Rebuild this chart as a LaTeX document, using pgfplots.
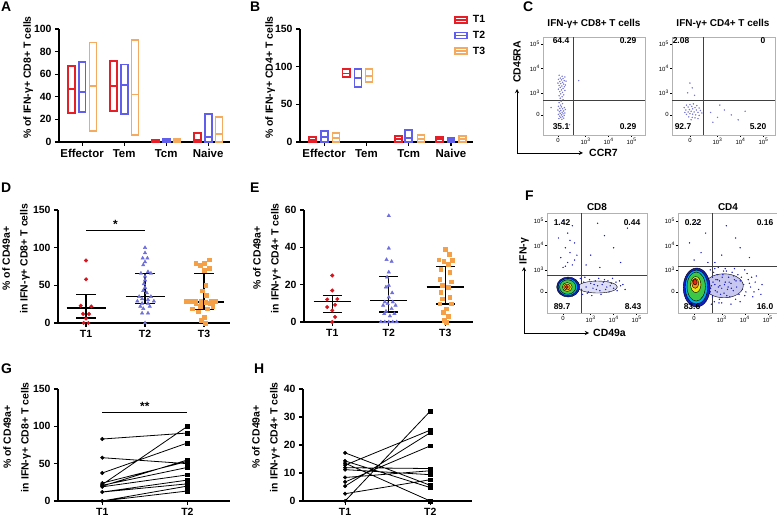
\documentclass[border=0pt]{standalone}
\usepackage{fontspec}
\setmainfont{Liberation Sans}
\usepackage{pgfplots}
\pgfplotsset{compat=1.18}

\definecolor{cred}{RGB}{230,30,40}
\definecolor{cblue}{RGB}{95,95,235}
\definecolor{corange}{RGB}{244,170,95}
\definecolor{pred}{RGB}{215,20,30}
\definecolor{pblue}{RGB}{110,110,220}
\definecolor{porange}{RGB}{245,160,70}
\definecolor{cdot}{RGB}{120,120,210}
\definecolor{fdot}{RGB}{30,30,190}
\definecolor{j1}{RGB}{20,30,200}
\definecolor{j2}{RGB}{0,170,240}
\definecolor{j3}{RGB}{60,200,70}
\definecolor{j4}{RGB}{235,230,20}
\definecolor{j5}{RGB}{250,150,20}
\definecolor{j6}{RGB}{230,40,20}

\pgfplotsset{
  bio/.style={scale only axis, anchor=south west, axis lines*=left,
    axis line style={line width=1.1pt}, every tick/.style={black, line width=1.1pt},
    tick align=outside, major tick length=4bp, minor tick num=0,
    /pgf/number format/assume math mode=true,
    tick label style={font=\bfseries\fontsize{10.5}{11}\selectfont},
    ylabel style={font=\bfseries\fontsize{10.5}{18}\selectfont, align=center},
    clip=false},
  ylab/.style={ylabel style={at={(axis description cs:#1,0.57)}, anchor=center}},
  flow/.style={scale only axis, anchor=south west,
    axis line style={gray!60, line width=0.5pt}, every tick/.style={black, line width=0.4pt},
    tick align=outside, major tick length=2bp, xtick pos=bottom, ytick pos=left,
    xtick={0,1.2,2.2,3.2}, xticklabels={0,10\textsuperscript{3},10\textsuperscript{4},10\textsuperscript{5}},
    ytick={0,0.9,1.9,2.9}, yticklabels={0,10\textsuperscript{3},10\textsuperscript{4},10\textsuperscript{5}},
    tick label style={font=\fontsize{6}{6}\selectfont, inner sep=1bp}},
  qline/.style={black!75, line width=0.6pt},
  boxleg/.style={#1, line width=1.8pt, legend image code/.code={\draw (0bp,-3bp) rectangle (12bp,3bp); \draw (0bp,0bp) -- (12bp,0bp);}},
}
% floating bar (min to max, line at median): colour, position, min, median, max
\newcommand{\fbar}[5]{%
  \pgfmathsetmacro\xa{#2-0.083}\pgfmathsetmacro\xb{#2+0.083}%
  \addplot[#1, line width=1.8pt, line cap=rect, forget plot] coordinates {(\xa,#3)(\xb,#3)(\xb,#5)(\xa,#5)(\xa,#3)};
  \addplot[#1, line width=1.8pt, forget plot] coordinates {(\xa,#4)(\xb,#4)};}
% density blob: colour, radius, xscale, x, y
\newcommand{\blob}[5]{\addplot[only marks, mark=*, mark size=#2, mark options={xscale=#3, draw=none, fill=#1}] coordinates {(#4,#5)};}

\begin{document}
\begin{tikzpicture}
\path[use as bounding box] (0,0) rectangle (777bp,520bp);

% ---------- A
\begin{axis}[bio, ylab=-0.181, at={(59bp,378bp)}, width=171bp, height=113bp,
  xmin=-0.55, xmax=3.52, ymin=0, ymax=100, ytick={0,20,...,100},
  xtick={0,1,2,3}, xticklabels={Effector,Tem,Tcm,Naive},
  x tick label style={font=\bfseries\fontsize{11.5}{12}\selectfont},
  ylabel={\% of IFN-γ+ CD8+ T cells}]
\fbar{cred}{-0.26}{26}{46.6}{67.4}
\fbar{cblue}{0}{26.7}{44}{71}
\fbar{corange}{0.26}{9.5}{49.6}{88}
\fbar{cred}{0.74}{27.3}{49.6}{72}
\fbar{cblue}{1}{24.6}{50.4}{68.5}
\fbar{corange}{1.26}{6}{42}{90}
\fbar{cred}{1.74}{0}{0.8}{1.8}
\fbar{cblue}{2}{0}{1.2}{3}
\fbar{corange}{2.26}{0}{1}{2.7}
\fbar{cred}{2.74}{0}{2}{8}
\fbar{cblue}{3}{0}{4.5}{25}
\fbar{corange}{3.26}{0}{7}{22}
\end{axis}

% ---------- B
\begin{axis}[bio, ylab=-0.173, at={(300bp,378bp)}, width=173bp, height=113bp,
  xmin=-0.57, xmax=3.52, ymin=0, ymax=150, ytick={0,50,100,150},
  xtick={0,1,2,3}, xticklabels={Effector,Tem,Tcm,Naive},
  x tick label style={font=\bfseries\fontsize{11.5}{12}\selectfont},
  ylabel={\% of IFN-γ+ CD4+ T cells},
  legend style={draw=none, fill=none, at={(0.89,1.14)}, anchor=north west,
    font=\bfseries\fontsize{10.5}{11}\selectfont, row sep=3bp, inner sep=0pt,
    nodes={inner xsep=5bp}},
  legend cell align=left]
\addlegendimage{boxleg=cred}
\addlegendentry{T1}
\addlegendimage{boxleg=cblue}
\addlegendentry{T2}
\addlegendimage{boxleg=corange}
\addlegendentry{T3}
\fbar{cred}{-0.27}{0}{3}{6.7}
\fbar{cblue}{0.01}{0}{6.7}{14.7}
\fbar{corange}{0.28}{0}{5.8}{12}
\fbar{cred}{0.52}{86}{91}{96.6}
\fbar{cblue}{0.8}{73.4}{84.6}{96.6}
\fbar{corange}{1.06}{80}{88}{96.6}
\fbar{cred}{1.75}{0}{4}{7.6}
\fbar{cblue}{2}{0}{5.8}{15.6}
\fbar{corange}{2.29}{0}{4.5}{9.3}
\fbar{cred}{2.73}{0}{3.6}{6.7}
\fbar{cblue}{3}{0}{2.7}{5.3}
\fbar{corange}{3.27}{0}{4}{7.6}
\end{axis}

% ---------- C
\begin{axis}[flow, at={(543bp,385bp)}, width=102bp, height=98bp,
  xmin=-0.65, xmax=3.78, ymin=-0.82, ymax=3.18]
\addplot[only marks, mark=*, mark size=0.5bp, cdot, mark options={draw=none}] coordinates {
(0.05,1.62)(0.18,1.58)(0.30,1.55)(0.10,1.50)(0.22,1.48)(0.02,1.45)(0.15,1.43)(0.27,1.40)
(0.35,1.38)(0.08,1.36)(0.20,1.33)(0.00,1.30)(0.12,1.28)(0.25,1.26)(0.32,1.22)(0.05,1.20)
(0.17,1.18)(0.28,1.15)(0.10,1.12)(0.22,1.08)(0.02,1.05)(0.15,1.02)(0.30,1.00)(0.08,0.95)
(0.20,0.92)(0.12,0.86)(0.25,0.82)(0.05,0.78)(0.18,0.74)(0.10,0.68)(0.22,0.62)(0.14,0.56)
(0.05,0.50)(0.20,0.46)(0.12,0.40)(0.02,0.35)(0.15,0.33)(0.28,0.30)(0.08,0.27)(0.20,0.25)
(0.32,0.22)(0.00,0.20)(0.12,0.18)(0.25,0.16)(0.06,0.13)(0.18,0.11)(0.30,0.08)(0.10,0.06)
(0.22,0.04)(0.02,0.02)(0.15,0.00)(0.27,-0.02)(0.08,-0.05)(0.20,-0.07)(0.12,-0.10)
(0.25,-0.13)(0.04,-0.15)(0.17,-0.18)(0.9,1.4)(-0.3,0.3)(0.5,-0.4)};
\addplot[qline] coordinates {(0.65,-0.82) (0.65,3.18)};
\addplot[qline] coordinates {(-0.65,0.61) (3.78,0.61)};
\end{axis}
\begin{axis}[flow, at={(672bp,385bp)}, width=103bp, height=98bp,
  xmin=-0.78, xmax=3.7, ymin=-0.82, ymax=3.18]
\addplot[only marks, mark=*, mark size=0.5bp, cdot, mark options={draw=none}] coordinates {
(-0.15,0.40)(0.00,0.42)(0.15,0.45)(0.30,0.38)(-0.25,0.30)(-0.08,0.32)(0.08,0.35)(0.22,0.30)
(0.40,0.28)(-0.18,0.20)(-0.02,0.22)(0.12,0.25)(0.28,0.20)(0.45,0.18)(-0.22,0.10)(-0.08,0.12)
(0.05,0.15)(0.18,0.12)(0.35,0.10)(0.52,0.08)(-0.15,0.02)(0.00,0.05)(0.12,0.03)(0.25,0.00)
(0.40,-0.02)(-0.05,-0.08)(0.10,-0.10)(0.22,-0.12)(0.35,-0.15)(0.05,-0.20)(0.9,0.1)(1.2,-0.1)
(1.5,0.2)(1.8,0.0)(2.1,-0.2)(1.3,0.4)(2.4,0.15)(1.0,-0.3)(0.0,1.3)(0.1,1.1)(-0.1,0.9)(0.2,0.8)};
\addplot[qline] coordinates {(0.6,-0.82) (0.6,3.18)};
\addplot[qline] coordinates {(-0.78,0.61) (3.7,0.61)};
\end{axis}

% ---------- D
\begin{axis}[bio, ylab=-0.244, at={(58bp,197bp)}, width=172bp, height=113bp,
  xmin=0.525, xmax=3.44, ymin=0, ymax=150, ytick={0,50,100,150},
  xtick={1,2,3}, xticklabels={T1,T2,T3},
  ylabel={\% of CD49a+\\in IFN-γ+ CD8+ T cells}]
\addplot[only marks, mark=*, mark size=1.8bp, pred] coordinates {
(1,83)(1,58)(0.91,23)(1.09,22)(0.95,12)(1.05,12)(1,6)(0.96,0)(1.04,0)};
\addplot[only marks, mark=triangle*, mark size=2bp, pblue] coordinates {
(2,100)(2,93)(1.96,86)(2.04,86)(2,81)(1.97,77)(2.05,68)(1.93,66)(2.1,66)(2,62)(2,57)
(1.98,52)(2,47)(1.97,43)(2.03,40)(1.9,35)(2.1,35)(1.95,32)(2.05,31)(1.87,29)(2.15,29)
(1.95,26)(2.05,26)(1.92,22)(2.08,22)(1.97,19)(1.95,13)(2.05,13)(2,0)};
\addplot[only marks, mark=square*, mark size=1.8bp, porange] coordinates {
(2.86,79)(2.93,77)(3.0,79)(3.09,84)(3.0,70)(3.09,73)(3.03,50)(2.97,43)(3.04,37)(2.7,29)
(2.78,29)(2.86,29)(2.94,29)(3.03,28)(3.12,29)(3.2,29)(2.86,26)(3.1,26)(2.93,22)(3.15,22)
(2.8,19)(3.05,19)(2.9,15)(3.0,8)(2.95,4)(3.02,0)};
\addplot[black, line width=1.4pt, unbounded coords=jump] coordinates {
(0.67,20)(1.33,20)(1,nan)(0.835,38)(1.165,38)(1,nan)(0.835,6.6)(1.165,6.6)(1,nan)(1,6.6)(1,38)(1,nan)
(1.67,35.4)(2.33,35.4)(2,nan)(1.835,65.5)(2.165,65.5)(2,nan)(1.835,25.7)(2.165,25.7)(2,nan)(2,25.7)(2,65.5)(2,nan)
(2.67,28)(3.33,28)(3,nan)(2.835,65.5)(3.165,65.5)(3,nan)(2.835,17.7)(3.165,17.7)(3,nan)(3,17.7)(3,65.5)};
\addplot[black, line width=0.9pt] coordinates {(1,123) (2,123)};
\node[font=\bfseries\fontsize{12}{12}\selectfont, anchor=south] at (axis cs:1.5,121) {*};
\end{axis}

% ---------- E
\begin{axis}[bio, ylab=-0.219, at={(304bp,198bp)}, width=169bp, height=112bp,
  xmin=0.5, xmax=3.49, ymin=0, ymax=60, ytick={0,20,40,60},
  xtick={1,2,3}, xticklabels={T1,T2,T3},
  ylabel={\% of CD49a+\\in IFN-γ+ CD4+ T cells}]
\addplot[only marks, mark=*, mark size=1.8bp, pred] coordinates {
(1,24.9)(1,16.9)(0.91,12.1)(1.09,12.3)(1.05,9.2)(0.91,8)(1.0,6.2)(1.05,2.7)(1,0)};
\addplot[only marks, mark=triangle*, mark size=2bp, pblue] coordinates {
(2,56.9)(2,39.5)(1.96,33.4)(2.05,32.4)(2,26.7)(1.97,24)(2,19.6)(1.95,18.7)(2.06,15.6)(2,13.3)
(1.93,10.7)(2.07,10.7)(1.98,9.8)(2.12,8.9)(1.9,8.9)(2.05,7.1)(1.95,5.7)(2.1,4.4)(1.92,4.4)
(2.02,3.2)(1.86,0)(1.93,0)(2,0)(2.07,0)(2.14,0)};
\addplot[only marks, mark=square*, mark size=1.8bp, porange] coordinates {
(3.0,39)(3.07,36.4)(2.88,33.3)(3.12,33.0)(2.97,32.5)(3.05,31)(2.92,28.4)(3.08,26.7)(2.9,22.8)
(3.1,21.5)(2.95,19.6)(3.05,18.7)(2.92,16)(3.08,13.3)(2.95,12.4)(3.1,9.8)(2.9,9.8)(3.02,7.1)
(2.96,5.3)(3.05,3)(2.98,0.9)(3.02,0)};
\addplot[black, line width=1.4pt, unbounded coords=jump] coordinates {
(0.67,11)(1.33,11)(1,nan)(0.835,14.2)(1.165,14.2)(1,nan)(0.835,5)(1.165,5)(1,nan)(1,5)(1,14.2)(1,nan)
(1.67,11.6)(2.33,11.6)(2,nan)(1.835,24.4)(2.165,24.4)(2,nan)(1.835,5.3)(2.165,5.3)(2,nan)(2,5.3)(2,24.4)(2,nan)
(2.67,18.7)(3.33,18.7)(3,nan)(2.835,29.7)(3.165,29.7)(3,nan)(2.835,9.6)(3.165,9.6)(3,nan)(3,9.6)(3,29.7)};
\end{axis}

% ---------- F
\begin{axis}[flow, at={(547bp,207bp)}, width=100bp, height=100bp,
  xmin=-0.7, xmax=3.65, ymin=-0.86, ymax=3.22]
\blob{fdot!15}{6bp}{3.3}{1.5}{0.2}
\addplot[only marks, mark=*, mark size=0.45bp, fdot, mark options={draw=none}] coordinates {
(0.7,0.3)(0.8,0.1)(0.9,0.4)(1.0,0.2)(1.1,0.0)(1.2,0.35)(1.3,0.15)(1.4,0.45)(1.5,0.25)(1.6,0.05)
(1.7,0.3)(1.8,0.5)(1.9,0.2)(2.0,0.0)(2.1,0.35)(2.2,0.15)(2.3,0.4)(2.5,0.25)(2.7,0.1)(0.75,0.55)
(0.85,-0.1)(0.95,0.6)(1.05,-0.05)(1.15,0.5)(1.25,-0.15)(1.35,0.3)(1.45,0.1)(1.55,0.55)(1.65,-0.1)
(1.75,0.4)(1.85,0.1)(1.95,0.45)(2.05,0.25)(2.15,0.55)(2.35,0.05)(2.45,0.45)(2.6,0.3)
(0.0,1.0)(0.2,1.2)(0.4,1.1)(-0.1,1.4)(0.3,1.6)(0.1,1.8)(0.5,2.0)(-0.2,2.2)(0.2,2.4)(0.4,2.7)
(0.0,2.9)(0.6,1.5)(0.3,2.1)(0.1,1.05)(0.5,1.3)(1.2,1.5)(1.8,2.3)(2.5,1.2)(1.5,2.8)(2.2,1.8)
(1.0,1.1)(2.8,2.6)(1.6,1.0)};
\blob{j1}{10bp}{1.15}{0.22}{0.2}
\blob{j2}{8.5bp}{1.15}{0.21}{0.2}
\blob{j3}{7.2bp}{1.12}{0.2}{0.2}
\blob{j4}{4.5bp}{1.1}{0.18}{0.2}
\blob{j5}{3bp}{1.1}{0.17}{0.2}
\blob{j6}{1.5bp}{1.1}{0.16}{0.2}
\addplot[qline] coordinates {(0.78,-0.86) (0.78,3.22)};
\addplot[qline] coordinates {(-0.7,0.69) (3.65,0.69)};
\end{axis}
\begin{axis}[flow, at={(678bp,207bp)}, width=99bp, height=100bp,
  xmin=-0.7, xmax=3.6, ymin=-0.86, ymax=3.22]
\blob{fdot!25}{12bp}{1.6}{1.3}{0.25}
\addplot[only marks, mark=*, mark size=0.45bp, fdot, mark options={draw=none}] coordinates {
(0.7,0.9)(0.8,0.6)(0.9,0.3)(1.0,0.0)(1.1,-0.3)(0.75,-0.5)(0.85,0.8)(0.95,0.5)(1.05,0.2)
(1.15,-0.1)(1.25,0.7)(1.35,0.4)(1.45,0.1)(1.55,-0.2)(1.65,0.8)(1.75,0.5)(1.85,0.2)(1.95,-0.1)
(2.05,0.6)(2.15,0.3)(2.25,0.0)(2.35,0.5)(2.45,0.2)(2.55,-0.2)(2.65,0.4)(2.8,0.1)(2.95,0.3)
(0.7,0.0)(0.8,-0.2)(0.9,0.95)(1.0,0.7)(1.1,0.45)(1.2,0.15)(1.3,-0.05)(1.4,0.85)(1.5,0.6)
(1.6,0.35)(1.7,0.05)(1.8,-0.3)(1.9,0.7)(2.0,0.45)(2.1,0.1)(2.2,-0.15)(2.3,0.75)(2.4,0.35)
(2.5,0.6)(2.6,0.0)(2.7,0.65)(2.9,-0.1)(1.2,-0.45)(1.6,-0.5)(2.0,-0.4)(0.65,0.45)(0.75,0.25)
(1.05,1.0)(1.35,0.95)(1.75,0.95)(2.2,0.9)
(0.72,0.15)(0.82,0.4)(0.92,0.05)(1.02,0.5)(1.12,0.25)(1.22,0.6)(1.32,0.3)(1.42,-0.15)
(1.52,0.4)(1.62,0.15)(1.72,0.65)(1.82,0.45)(0.88,-0.4)(1.08,-0.45)(1.28,0.85)(1.48,0.2)
(0.0,1.3)(0.3,1.6)(-0.2,2.0)(0.5,2.4)(0.1,2.8)(0.6,1.2)(1.2,1.5)(1.8,2.2)(2.4,1.4)(1.4,2.7)
(2.0,1.8)(0.9,1.2)};
\blob{j1}{19.5bp}{0.69}{0.11}{0.18}
\blob{j2}{17bp}{0.66}{0.1}{0.2}
\blob{j3}{14.5bp}{0.63}{0.09}{0.22}
\blob{j4}{8bp}{0.65}{0.07}{0.3}
\blob{j5}{5bp}{0.7}{0.05}{0.35}
\blob{j6}{2.8bp}{0.75}{0.04}{0.4}
\addplot[qline] coordinates {(0.78,-0.86) (0.78,3.22)};
\addplot[qline] coordinates {(-0.7,1.06) (3.6,1.06)};
\end{axis}

% ---------- G
\begin{axis}[bio, ylab=-0.238, at={(58bp,19bp)}, width=172bp, height=112bp,
  xmin=0.48, xmax=2.5, ymin=0, ymax=150, ytick={0,50,100,150},
  xtick={1,2}, xticklabels={T1,T2},
  ylabel={\% of CD49a+\\in IFN-γ+ CD8+ T cells}]
\addplot[black, line width=0.8pt, unbounded coords=jump] coordinates {
(1,83)(2,91)(1,nan)(1,58)(2,50)(1,nan)(1,37.5)(2,77.7)(1,nan)(1,22)(2,100)(1,nan)
(1,20)(2,55)(1,nan)(1,24)(2,53)(1,nan)(1,21)(2,45)(1,nan)(1,19)(2,35)(1,nan)
(1,12)(2,28)(1,nan)(1,12)(2,23)(1,nan)(1,0)(2,20)(1,nan)(1,0)(2,13.4)};
\addplot[only marks, mark=*, mark size=1.8bp, black] coordinates {
(1,83)(1,58)(1,37.5)(1,22)(1,20)(1,24)(1,21)(1,19)(1,12)(1,0)};
\addplot[only marks, mark=square*, mark size=1.8bp, black] coordinates {
(2,91)(2,50)(2,77.7)(2,100)(2,55)(2,53)(2,45)(2,35)(2,28)(2,23)(2,20)(2,13.4)};
\addplot[black, line width=0.9pt] coordinates {(1,118) (2,118)};
\node[font=\bfseries\fontsize{12}{12}\selectfont, anchor=south] at (axis cs:1.5,116) {**};
\end{axis}

% ---------- H
\begin{axis}[bio, ylab=-0.219, at={(303bp,19bp)}, width=169bp, height=112bp,
  xmin=0.506, xmax=2.49, ymin=0, ymax=40, ytick={0,10,...,40},
  xtick={1,2}, xticklabels={T1,T2},
  ylabel={\% of CD49a+\\in IFN-γ+ CD4+ T cells}]
\addplot[black, line width=0.8pt, unbounded coords=jump] coordinates {
(1,0)(2,32.1)(1,nan)(1,12.8)(2,25.3)(1,nan)(1,5.3)(2,24.4)(1,nan)(1,6.8)(2,19.7)(1,nan)
(1,11.9)(2,11.6)(1,nan)(1,8.4)(2,10.8)(1,nan)(1,2.6)(2,7.6)(1,nan)(1,11.2)(2,9.4)(1,nan)
(1,17.2)(2,5.6)(1,nan)(1,14.3)(2,4.8)(1,nan)(1,13.5)(2,0)};
\addplot[only marks, mark=*, mark size=1.8bp, black] coordinates {
(1,0)(1,12.8)(1,5.3)(1,6.8)(1,11.9)(1,8.4)(1,2.6)(1,11.2)(1,17.2)(1,14.3)(1,13.5)};
\addplot[only marks, mark=square*, mark size=1.8bp, black] coordinates {
(2,32.1)(2,25.3)(2,24.4)(2,19.7)(2,11.6)(2,10.8)(2,7.6)(2,9.4)(2,5.6)(2,4.8)(2,0)};
\end{axis}

% ---------- panel letters and flow annotations
\begin{scope}[every node/.style={font=\bfseries\fontsize{14}{14}\selectfont, inner sep=0pt, anchor=north west}]
\node at (1bp,518bp) {A};
\node at (250bp,518bp) {B};
\node at (523bp,518bp) {C};
\node at (1bp,337bp) {D};
\node at (250bp,337bp) {E};
\node at (525bp,329bp) {F};
\node at (1bp,156bp) {G};
\node at (254bp,156bp) {H};
\end{scope}
\begin{scope}[every node/.style={font=\bfseries\fontsize{10}{10}\selectfont, inner sep=0pt}]
\node at (594bp,496bp) {IFN-γ+ CD8+ T cells};
\node at (723bp,496bp) {IFN-γ+ CD4+ T cells};
\node at (597bp,313bp) {CD8};
\node at (728bp,313bp) {CD4};
\end{scope}
\begin{scope}[every node/.style={font=\bfseries\fontsize{8.5}{9}\selectfont, inner sep=0pt}]
\node at (561bp,479bp) {64.4};
\node at (628bp,479bp) {0.29};
\node at (561bp,393bp) {35.1};
\node at (628bp,393bp) {0.29};
\node at (681bp,479bp) {2.08};
\node at (763bp,479bp) {0};
\node at (683bp,393bp) {92.7};
\node at (758bp,393bp) {5.20};
\node at (562bp,297bp) {1.42};
\node at (632bp,297bp) {0.44};
\node at (562bp,213bp) {89.7};
\node at (633bp,213bp) {8.43};
\node at (693bp,297bp) {0.22};
\node at (765bp,297bp) {0.16};
\node at (692bp,213bp) {83.6};
\node at (765bp,213bp) {16.0};
\end{scope}
\draw[line width=0.9pt, -stealth] (517bp,367bp) -- (517bp,431bp);
\draw[line width=0.9pt, -stealth] (517bp,367bp) -- (583bp,367bp);
\node[rotate=90, font=\bfseries\fontsize{10.5}{11}\selectfont, inner sep=0pt] at (517bp,458bp) {CD45RA};
\node[font=\bfseries\fontsize{10.5}{11}\selectfont, inner sep=0pt, anchor=west] at (589bp,367bp) {CCR7};
\draw[line width=0.9pt, -stealth] (524bp,187bp) -- (524bp,253bp);
\draw[line width=0.9pt, -stealth] (524bp,187bp) -- (589bp,187bp);
\node[rotate=90, font=\bfseries\fontsize{10.5}{11}\selectfont, inner sep=0pt] at (524bp,269bp) {IFN-γ};
\node[font=\bfseries\fontsize{10.5}{11}\selectfont, inner sep=0pt, anchor=west] at (593bp,187bp) {CD49a};
\end{tikzpicture}
\end{document}
